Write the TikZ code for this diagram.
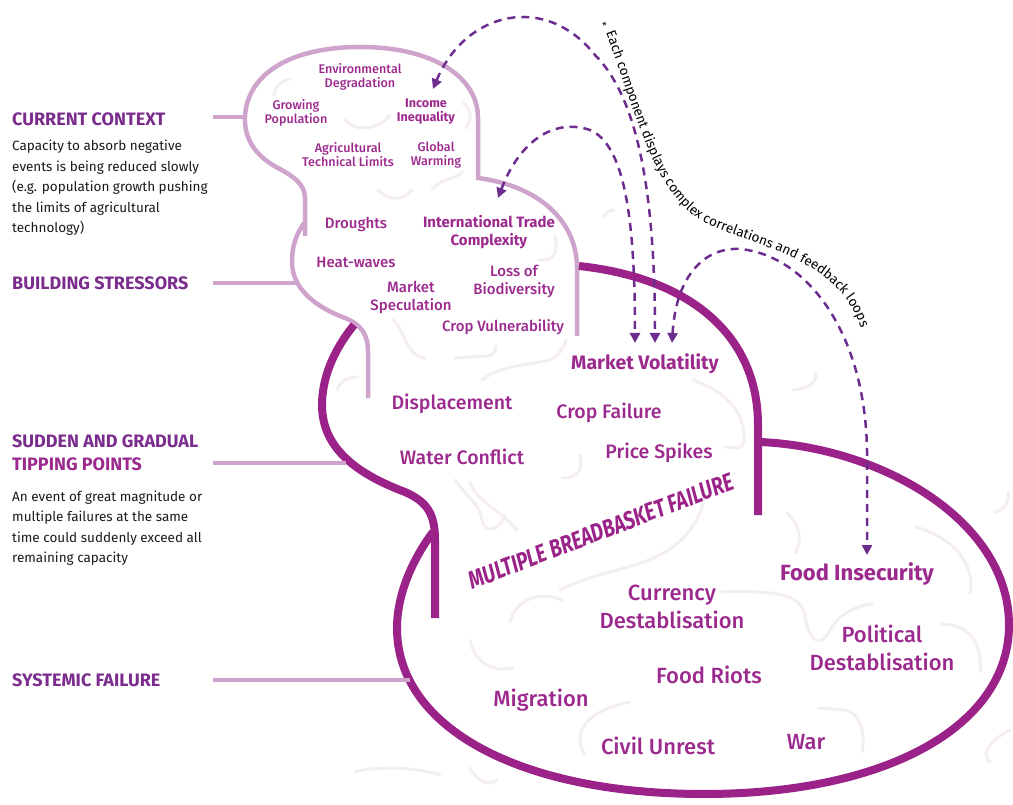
\documentclass[tikz,border=0pt]{standalone}
\usepackage{fontspec}
\setmainfont{Fira Sans}
\newfontfamily\labfont{Fira Sans}[UprightFont={* Medium},BoldFont={* Bold},ItalicFont={* Medium Italic},BoldItalicFont={* Bold Italic}]
\usetikzlibrary{arrows.meta,decorations.text}

\definecolor{headcol}{HTML}{7B2D8E}
\definecolor{labcol}{HTML}{9C2A8E}
\definecolor{lightline}{HTML}{CFA4CC}
\definecolor{darkline}{HTML}{9B2288}
\definecolor{dashcol}{HTML}{6C2D8F}
\definecolor{squigcol}{HTML}{F4EDF4}
\definecolor{notecol}{HTML}{1A1A1A}

\begin{document}
\begin{tikzpicture}[x=1pt,y=-1pt,
		light/.style={draw=lightline,line width=4.5pt},
		dark/.style={draw=darkline,line width=8pt},
		squig/.style={draw=squigcol,line width=3pt,line cap=round},
		feedback/.style={draw=dashcol,line width=2.5pt,dash pattern=on 8pt off 6pt,
			{Triangle[length=10pt,width=10pt]}-{Triangle[length=10pt,width=10pt]}},
		head/.style={anchor=west,inner sep=0pt,text=headcol,font=\fontsize{18}{23}\selectfont\bfseries},
		note/.style={anchor=north west,inner sep=0pt,align=left,text=notecol,font=\fontsize{13.5}{20.5}\selectfont},
		lab/.style={inner sep=0pt,align=center,text=labcol},
		ctxlab/.style={lab,font=\labfont\fontsize{12.6}{14}\selectfont},
		strlab/.style={lab,font=\labfont\fontsize{15}{18}\selectfont},
		tiplab/.style={lab,font=\labfont\fontsize{19.5}{22}\selectfont},
		faillab/.style={lab,font=\labfont\fontsize{22}{27.5}\selectfont}]
	\useasboundingbox (0,0) rectangle (1013,805);

	%% background squiggles
	\draw[squig] (274,95) .. controls (276,85) and (282,80) .. (290,79);
	\draw[squig] (345,120) .. controls (355,132) and (380,130) .. (390,115);
	\draw[squig] (462,102) .. controls (472,110) and (472,120) .. (466,128);
	\draw[squig] (432,190) .. controls (440,178) and (455,180) .. (462,172);
	\draw[squig] (378,190) .. controls (390,202) and (405,200) .. (412,190);
	\draw[squig] (555,237) .. controls (560,255) and (550,262) .. (538,260);
	\draw[squig] (393,320) .. controls (405,330) and (405,355) .. (425,358);
	\draw[squig] (455,358) -- (488,356) .. controls (494,355) and (496,350) .. (496,345);
	\draw[squig] (482,380) .. controls (500,365) and (530,365) .. (550,360) .. controls (560,355) and (565,345) .. (566,340);
	\draw[squig] (337,390) .. controls (340,380) and (350,377) .. (358,377);
	\draw[squig] (693,380) .. controls (735,395) and (745,420) .. (744,440) .. controls (742,452) and (735,447) .. (725,447);
	\draw[squig] (580,455) .. controls (583,470) and (578,478) .. (562,478);
	\draw[squig] (455,480) .. controls (470,500) and (480,505) .. (482,520) .. controls (485,535) and (500,530) .. (505,515);
	\draw[squig] (470,482) .. controls (475,500) and (500,510) .. (517,530);
	\draw[squig] (560,590) .. controls (610,565) and (660,570) .. (690,530) .. controls (700,515) and (705,505) .. (703,495);
	\draw[squig] (510,622) .. controls (515,600) and (540,590) .. (562,600);
	\draw[squig] (470,640) .. controls (475,665) and (495,672) .. (513,668);
	\draw[squig] (630,702) .. controls (590,710) and (570,730) .. (585,755);
	\draw[squig] (720,592) .. controls (780,590) and (800,595) .. (805,615) .. controls (808,640) and (820,650) .. (830,630) .. controls (840,612) and (860,605) .. (872,604);
	\draw[squig] (916,527) .. controls (960,540) and (975,570) .. (970,593);
	\draw[squig] (942,624) .. controls (975,625) and (982,650) .. (980,672);
	\draw[squig] (818,708) -- (845,710) .. controls (860,712) and (866,735) .. (862,752);
	\draw[squig] (787,513) .. controls (800,525) and (803,540) .. (795,553);
	\draw[squig] (793,390) .. controls (812,388) and (818,380) .. (815,373);
	\draw[squig] (355,772) .. controls (380,765) and (420,768) .. (440,775);
	\draw[squig] (470,768) .. controls (480,785) and (490,785) .. (497,780);
	\draw[squig] (1010,730) .. controls (990,740) and (980,755) .. (990,762);
	\draw[squig] (995,512) .. controls (1005,510) and (1010,500) .. (1008,492);
	\draw[squig] (603,218) .. controls (605,212) and (610,210) .. (614,210);

	%% bubbles
	\draw[light] (305,236) -- (305,198) .. controls (305,184) and (293,176) .. (278,168)
		.. controls (255,156) and (244,138) .. (245,117) .. controls (247,73) and (292,47) .. (360,47)
		.. controls (435,47) and (478,78) .. (478,118) -- (478,178)
		.. controls (540,186) and (577,222) .. (577,268) -- (577,336);
	\draw[light] (305,222) .. controls (296,234) and (292,246) .. (292,262)
		.. controls (292,290) and (318,308) .. (345,318) .. controls (362,325) and (368,335) .. (368,352) -- (368,398);
	\draw[dark] (579,266) .. controls (690,278) and (758,335) .. (758,425) -- (758,515);
	\draw[dark] (354,325) .. controls (332,352) and (322,380) .. (322,405)
		.. controls (322,450) and (360,475) .. (405,492) .. controls (428,502) and (435,515) .. (435,540) -- (435,618);
	\draw[dark] (433,532) .. controls (412,560) and (397,595) .. (397,628)
		.. controls (397,728) and (520,794) .. (704,794) .. controls (887,794) and (1009,726) .. (1009,625)
		.. controls (1009,520) and (880,447) .. (760,442);

	%% stage markers
	\draw[light] (213,117) -- (246,117);
	\draw[light] (213,283) -- (298,283);
	\draw[light] (213,463) -- (346,463);
	\draw[light] (213,680) -- (410,680);

	%% left column
	\node[head] (ctx) at (12,119) {CURRENT CONTEXT};
	\node[note] (ctxnote) at (12,140) {Capacity to absorb negative\\events is being reduced slowly\\(e.g. population growth pushing\\the limits of agricultural\\technology)};
	\node[head] (stress) at (12,283) {BUILDING STRESSORS};
	\node[head,anchor=north west,align=left] (tip) at (12,434.5) {SUDDEN AND GRADUAL\\\textcolor{labcol}{TIPPING POINTS}};
	\node[note] (tipnote) at (12,490.5) {An event of great magnitude or\\multiple failures at the same\\time could suddenly exceed all\\remaining capacity};
	\node[head] (sys) at (12,680) {SYSTEMIC FAILURE};

	%% current context
	\node[ctxlab] (envdeg) at (360,77) {Environmental\\Degradation};
	\node[ctxlab] (grow) at (296,113) {Growing\\Population};
	\node[ctxlab] (income) at (426,112) {\textbf{Income}\\\textbf{Inequality}};
	\node[ctxlab] (agri) at (348,155) {Agricultural\\Technical Limits};
	\node[ctxlab] (warm) at (436,155) {Global\\Warming};

	%% stressors
	\node[strlab] (drought) at (356,224) {Droughts};
	\node[strlab] (trade) at (489,232) {\textbf{International Trade}\\\textbf{Complexity}};
	\node[strlab] (heat) at (356,262) {Heat-waves};
	\node[strlab] (biodiv) at (514,281) {Loss of\\Biodiversity};
	\node[strlab] (spec) at (411,297) {Market\\Speculation};
	\node[strlab] (cropvul) at (503,327) {Crop Vulnerability};

	%% tipping points
	\node[tiplab] (volat) at (645,364) {\textbf{Market Volatility}};
	\node[tiplab] (displ) at (452,404) {Displacement};
	\node[tiplab] (cropfail) at (609,413) {Crop Failure};
	\node[tiplab] (water) at (462,457) {Water Conflict};
	\node[tiplab] (spikes) at (659,453) {Price Spikes};

	%% systemic failure
	\node[lab,rotate=21,xscale=0.77,text=darkline,font=\labfont\fontsize{25}{25}\selectfont\bfseries\itshape] (mbf) at (601,531) {MULTIPLE BREADBASKET FAILURE};
	\node[faillab] (foodins) at (857,574) {\textbf{Food Insecurity}};
	\node[faillab] (currency) at (672,607) {Currency\\Destablisation};
	\node[faillab] (polit) at (882,648) {Political\\Destablisation};
	\node[faillab] (riots) at (709,675) {Food Riots};
	\node[faillab] (migr) at (541,700) {Migration};
	\node[faillab] (civil) at (658,746) {Civil Unrest};
	\node[faillab] (war) at (806,742) {War};

	%% feedback loops
	\coordinate (inc) at (433,89);
	\coordinate (trd) at (498,198);
	\coordinate (mvA) at (635,343);
	\coordinate (mvB) at (655,343);
	\coordinate (mvC) at (672,343);
	\coordinate (fi) at (867,555);
	\draw[feedback] (inc) .. controls (465,12) and (545,-8) .. (595,55) .. controls (640,100) and (655,200) .. (mvB);
	\draw[feedback] (trd) .. controls (520,140) and (555,118) .. (590,130) .. controls (625,145) and (635,220) .. (mvA);
	\draw[feedback] (mvC) .. controls (676,275) and (705,247) .. (740,249) .. controls (805,255) and (865,330) .. (867,450) -- (fi);

	%% footnote along the loops
	\node[rotate=-65,inner sep=0pt,font=\fontsize{10}{10}\selectfont] (ast) at (603,25) {*};
	\path[decorate,decoration={text along path,
		text={|\fontsize{13.5}{15}\selectfont|Each component displays complex correlations and feedback loops}}]
		(606,33) .. controls (640,125) and (655,195) .. (705,223) .. controls (770,252) and (855,262) .. (866,352);
\end{tikzpicture}
\end{document}
